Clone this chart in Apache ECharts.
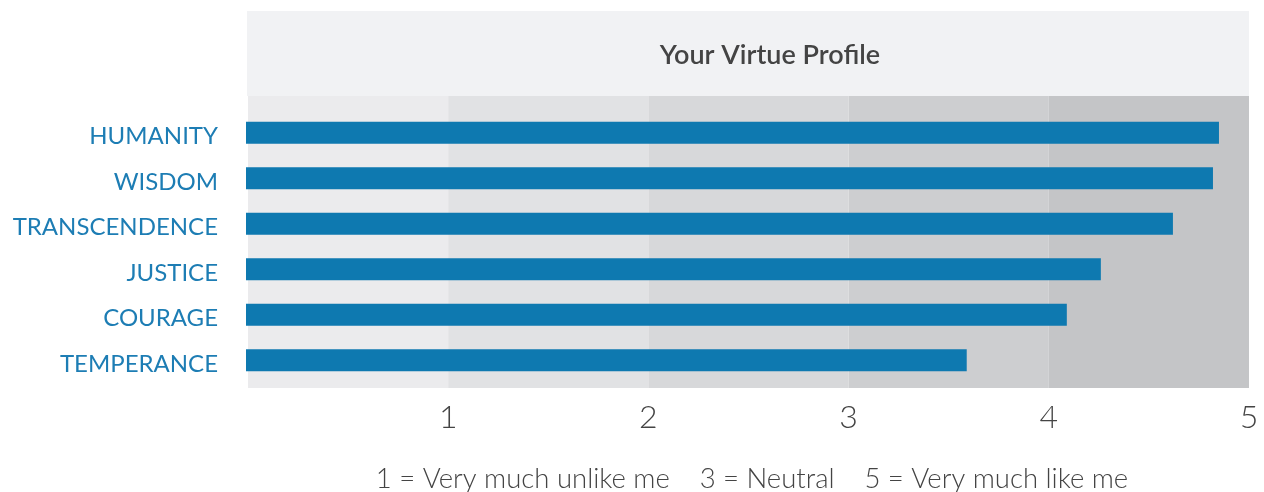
<!DOCTYPE html>
<html>
<head>
<meta charset="utf-8">
<script src="https://cdn.jsdelivr.net/npm/echarts@6/dist/echarts.min.js"></script>
<style>
  html, body { margin: 0; padding: 0; background: #fff; }
  #chart { width: 1264px; height: 492px; }
</style>
</head>
<body>
<div id="chart"></div>
<script>
// virtues, top to bottom
var virtues = ["HUMANITY", "WISDOM", "TRANSCENDENCE", "JUSTICE", "COURAGE", "TEMPERANCE"];
var scores = [4.86, 4.83, 4.63, 4.27, 4.10, 3.60];
// shaded score bands
var bandFrom = [0, 1, 2, 3, 4];
var bandTo = [1, 2, 3, 4, 5];
var tickValues = [1, 2, 3, 4, 5];
var chartTitle = "Your Virtue Profile";
var footNote = "1 = Very much unlike me    3 = Neutral    5 = Very much like me";

var bandColors = ["#ebebed", "#e1e2e4", "#d7d8da", "#cdced0", "#c4c5c7"];
var blue = "#0e79b0";
var grey = "#444";

var chart = echarts.init(document.getElementById("chart"));

var bands = bandFrom.map(function (f, i) {
  return [{ xAxis: f, itemStyle: { color: bandColors[i] } }, { xAxis: bandTo[i] }];
});

var option = {
  animation: false,
  grid: [
    { left: 248, right: 15, top: 96, bottom: 104 },
    { left: 246, right: 17, top: 110, bottom: 109 }
  ],
  xAxis: [
    {
      gridIndex: 0, type: "value", min: 0, max: 5, interval: 1,
      axisLine: { show: false }, axisTick: { show: false }, splitLine: { show: false },
      axisLabel: {
        fontFamily: "Lato", fontWeight: 300, fontSize: 32, color: grey, margin: 14,
        formatter: function (v) { return tickValues.indexOf(v) >= 0 ? String(v) : ""; }
      }
    },
    { gridIndex: 1, type: "value", min: 0, max: 5, show: false }
  ],
  yAxis: [
    { gridIndex: 0, type: "category", data: [""], show: false },
    {
      gridIndex: 1, type: "category", data: virtues, inverse: true,
      axisLine: { show: false }, axisTick: { show: false },
      axisLabel: {
        margin: 28,
        formatter: function (v) { return "{v|" + v + "}"; },
        rich: { v: { fontFamily: "Lato", fontSize: 24, color: "#1d7db4", padding: [8, 0, 0, 0] } }
      }
    }
  ],
  graphic: [
    { type: "rect", z: -1, shape: { x: 247, y: 11, width: 1002, height: 85 }, style: { fill: "#f1f2f4" } },
    { type: "text", style: { text: chartTitle, x: 770, y: 55, textAlign: "center", textVerticalAlign: "middle",
        font: "600 27px Lato", fill: grey } },
    { type: "text", style: { text: footNote, x: 752, y: 479, textAlign: "center", textVerticalAlign: "middle",
        font: "300 27.5px Lato", fill: grey } }
  ],
  series: [
    {
      type: "bar", xAxisIndex: 0, yAxisIndex: 0, data: [], silent: true,
      markArea: { silent: true, data: bands }
    },
    {
      type: "bar", xAxisIndex: 1, yAxisIndex: 1, data: scores, barWidth: 22,
      itemStyle: { color: blue }, silent: true
    }
  ]
};
chart.setOption(option);
</script>
</body>
</html>
